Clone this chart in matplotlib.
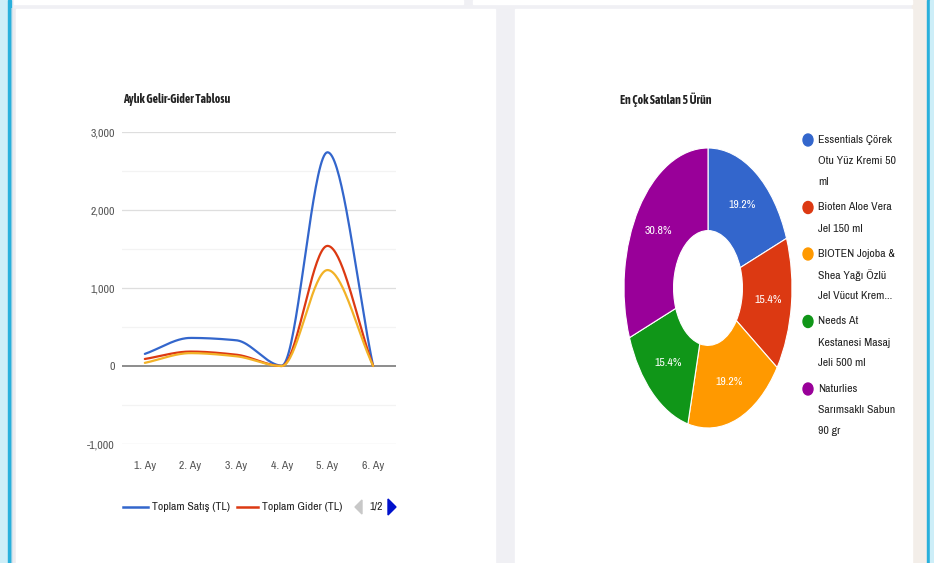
import numpy as np
import matplotlib
matplotlib.use('Agg')
import matplotlib.pyplot as plt
from matplotlib.patches import Rectangle, Ellipse, Polygon

DAR = ['Liberation Sans Narrow', 'Archivo Narrow', 'DejaVu Sans']
DAR_KALIN = ['Liberation Sans Narrow', 'Asap Condensed', 'DejaVu Sans']
plt.rcParams['font.family'] = DAR

# Aylık gelir-gider verileri
aylar = ['1. Ay', '2. Ay', '3. Ay', '4. Ay', '5. Ay', '6. Ay']
toplam_satis = [155, 360, 330, 5, 2740, 0]
toplam_gider = [90, 185, 145, 0, 1540, 0]
ucuncu_seri = [40, 165, 125, 0, 1230, 0]
y_ticks = [-1000, 0, 1000, 2000, 3000]
y_labels = ['-1,000', '0', '1,000', '2,000', '3,000']

# En çok satılan ürünler
urunler = ['Essentials Çörek\nOtu Yüz Kremi 50\nml',
           'Bioten Aloe Vera\nJel 150 ml',
           'BIOTEN Jojoba &\nShea Yağı Özlü\nJel Vücut Krem...',
           'Needs At\nKestanesi Masaj\nJeli 500 ml',
           'Naturlies\nSarımsaklı Sabun\n90 gr']
satis_adet = [5, 4, 5, 4, 8]
renkler = ['#3366cc', '#dc3912', '#ff9900', '#109618', '#990099']
cizgi_renkleri = ['#3366cc', '#dc3912', '#f2b227']

W, H = 934, 563


def px_axes(fig, x0, y0, x1, y1, **kw):
    """Piksel koordinatlarıyla (üstten) eksen oluşturur."""
    return fig.add_axes([x0 / W, 1 - y1 / H, (x1 - x0) / W, (y1 - y0) / H], **kw)


def smooth(vals, n=40):
    """Monoton kübik yumuşatma (PCHIP benzeri)."""
    p = np.array(vals, dtype=float)
    d = np.diff(p)
    m = np.zeros_like(p)
    m[0], m[-1] = d[0], d[-1]
    for k in range(1, len(p) - 1):
        if d[k - 1] * d[k] > 0:
            m[k] = 2 / (1 / d[k - 1] + 1 / d[k])
    xs, ys = [], []
    t = np.linspace(0, 1, n)
    h00 = 2 * t**3 - 3 * t**2 + 1
    h10 = t**3 - 2 * t**2 + t
    h01 = -2 * t**3 + 3 * t**2
    h11 = t**3 - t**2
    for i in range(len(p) - 1):
        xs.append(i + t)
        ys.append(h00 * p[i] + h10 * m[i] + h01 * p[i + 1] + h11 * m[i + 1])
    return np.concatenate(xs), np.concatenate(ys)


fig = plt.figure(figsize=(W / 100, H / 100), dpi=100)
bg = fig.add_axes([0, 0, 1, 1])
bg.set_xlim(0, W)
bg.set_ylim(H, 0)
bg.axis('off')

# Sayfa arka planı ve kartlar
bg.add_patch(Rectangle((0, 0), W, H, color='#f0f0f4'))
bg.add_patch(Rectangle((0, 0), 8, H, color='#cdeef8'))
bg.add_patch(Rectangle((8, 0), 2.5, H, color='#29b0dc'))
bg.add_patch(Rectangle((912, 0), 15, H, color='#f3eee9'))
bg.add_patch(Rectangle((927, 0), 2.5, H, color='#29b0dc'))
bg.add_patch(Rectangle((929.5, 0), 5, H, color='#cdeef8'))
bg.add_patch(Rectangle((14, 0), 449, 4, color='white'))
bg.add_patch(Rectangle((473, 0), 439, 4, color='white'))
for k in range(6):
    bg.add_patch(Rectangle((11 + k, 8), 1, H, color='#e6e6ea', alpha=0.5 - k * 0.08, lw=0))
bg.add_patch(Rectangle((16, 9), 479, H, color='white'))
bg.add_patch(Rectangle((515, 9), 397, H, color='white'))

# Çizgi grafik
ax = px_axes(fig, 122, 132, 396, 444)
x = np.arange(len(aylar))
for seri, renk in zip([toplam_satis, toplam_gider, ucuncu_seri], cizgi_renkleri):
    sx, sy = smooth(seri)
    ax.plot(sx, sy, color=renk, lw=1.6, zorder=3, solid_capstyle='round')
ax.set_xlim(-0.5, 5.5)
ax.set_ylim(-1000, 3000)
for yv in range(-1000, 3001, 500):
    if yv == 0:
        ax.axhline(0, color='#8c8c8c', lw=1.4, zorder=2)
    elif yv % 1000 == 0:
        ax.axhline(yv, color='#dedede', lw=0.9, zorder=1)
    else:
        ax.axhline(yv, color='#f3f3f3', lw=0.9, zorder=1)
ax.set_yticks(y_ticks)
ax.set_yticklabels(y_labels)
ax.set_xticks(x)
ax.set_xticklabels(aylar)
ax.tick_params(length=0, labelsize=8.5, labelcolor='#555555')
ax.tick_params(axis='y', pad=5)
ax.tick_params(axis='x', pad=12)
for s in ax.spines.values():
    s.set_visible(False)
ax.patch.set_alpha(0)

bg.text(123, 100, 'Aylık Gelir-Gider Tablosu', fontsize=8.5, fontweight='bold',
        family=DAR_KALIN, color='#222222', va='center', ha='left')

# Alt açıklama
bg.plot([123, 148], [507, 507], color=cizgi_renkleri[0], lw=1.8)
bg.text(152, 507, 'Toplam Satış (TL)', fontsize=8.5, color='#222222', va='center')
bg.plot([237, 258], [507, 507], color=cizgi_renkleri[1], lw=1.8)
bg.text(262, 507, 'Toplam Gider (TL)', fontsize=8.5, color='#222222', va='center')
bg.add_patch(Polygon([[362, 500], [362, 514], [355, 507]], color='#c8c8c8'))
bg.text(369, 507, '1/2', fontsize=8.5, color='#222222', va='center')
bg.add_patch(Polygon([[388, 499], [388, 515], [396, 507]], color='#0011cc'))

# Halka grafik (ekran görüntüsü yatayda sıkışık, bu yüzden elips)
pax = px_axes(fig, 624, 148, 792, 428)
wedges, _, autotexts = pax.pie(
    satis_adet, colors=renkler, startangle=90, counterclock=False,
    radius=1.0, autopct='%1.1f%%', pctdistance=0.72,
    wedgeprops=dict(width=0.59, edgecolor='white', linewidth=0.8),
    textprops=dict(color='white', fontsize=8.5))
pax.set_xlim(-1, 1)
pax.set_ylim(-1, 1)
pax.set_aspect('auto')
pax.axis('off')

bg.text(620, 100, 'En Çok Satılan 5 Ürün', fontsize=8.5, fontweight='bold',
        family=DAR_KALIN, color='#222222', va='center', ha='left')

# Sağ açıklama
ly = 140
for ad, renk in zip(urunler, renkler):
    bg.add_patch(Ellipse((808, ly), 10, 12, color=renk))
    satirlar = ad.split('\n')
    for j, satir in enumerate(satirlar):
        bg.text(818, ly + j * 21, satir, fontsize=8.5, color='#222222', va='center')
    ly += len(satirlar) * 21 + 4.5

fig.savefig('out.png', dpi=100)
